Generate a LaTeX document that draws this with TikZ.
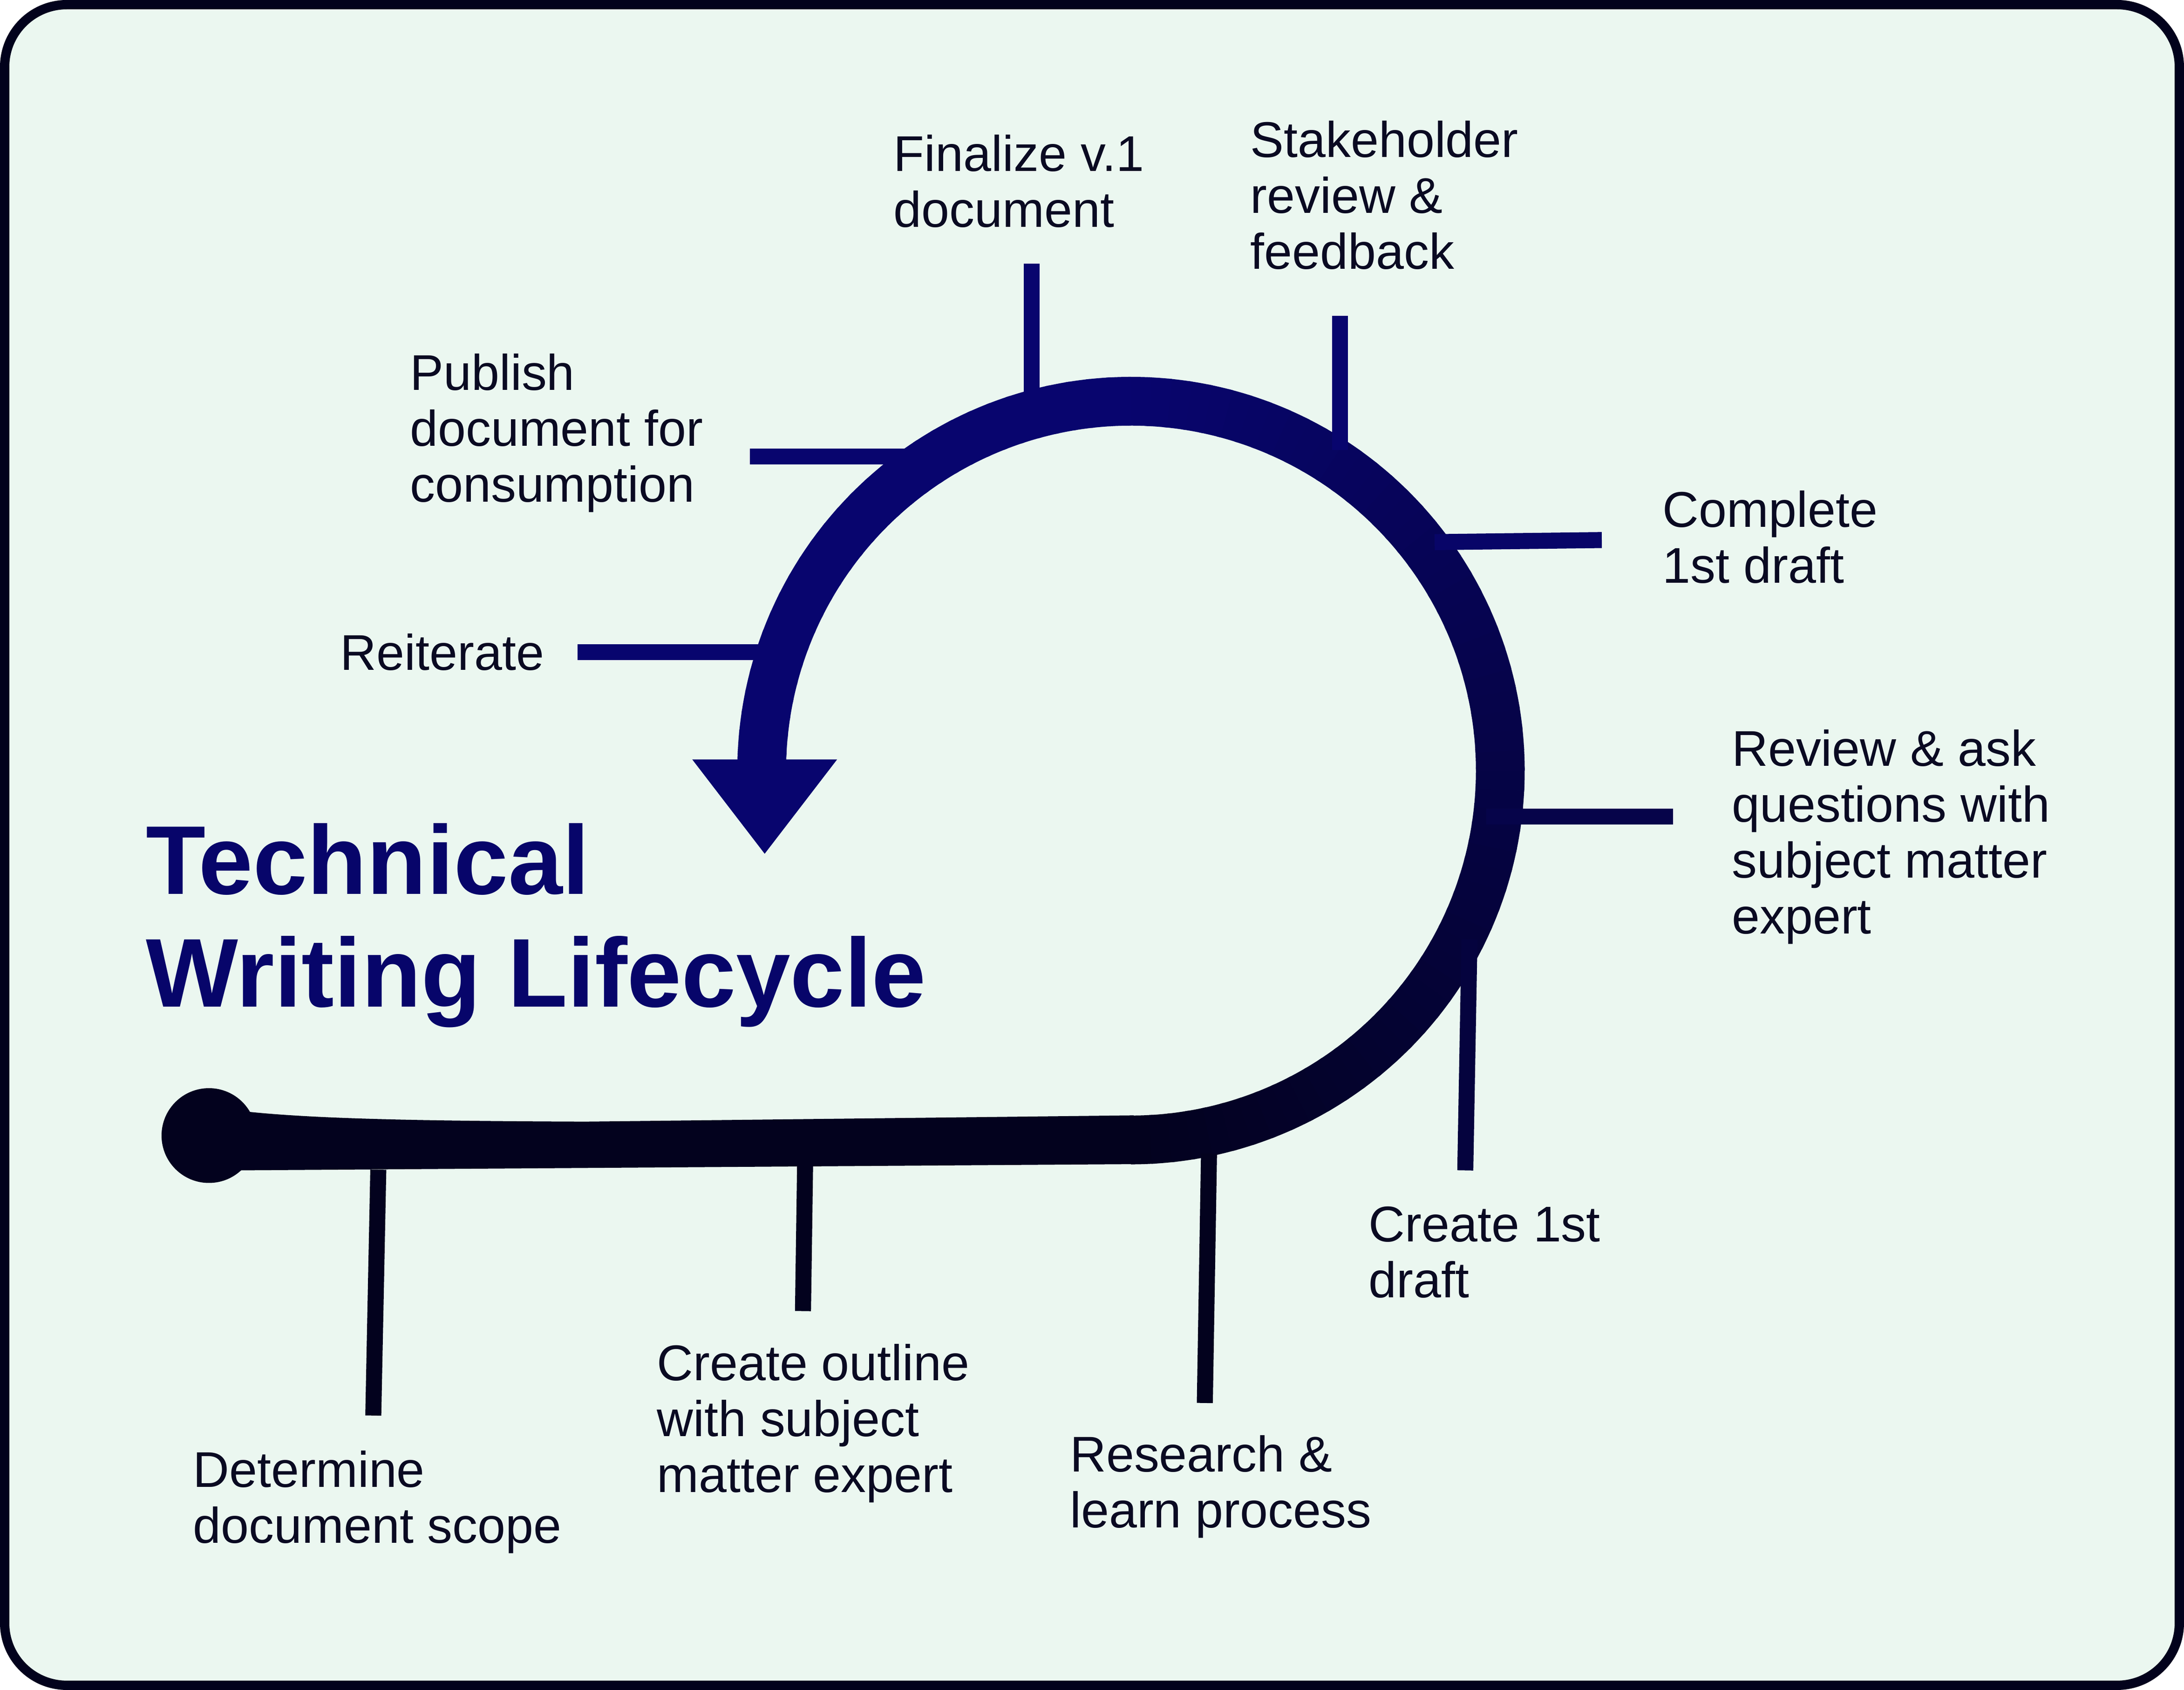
\documentclass[tikz,border=0pt]{standalone}
\usepackage{fontspec}
\setmainfont{Liberation Sans}
\definecolor{bgc}{HTML}{EBF7F0}
\definecolor{framec}{HTML}{02021C}
\definecolor{navyc}{HTML}{08056E}
\definecolor{darkc}{HTML}{03021E}
\definecolor{textc}{HTML}{0A0A22}
\definecolor{titlec}{HTML}{07056A}
\begin{document}
\begin{tikzpicture}[x=0.01cm,y=0.01cm,
  lbl/.style={anchor=base west, inner sep=0pt, align=left, text=textc,
    font=\fontsize{10.25pt}{11.4pt}\selectfont},
  ttl/.style={anchor=base west, inner sep=0pt, align=left, text=titlec,
    font=\fontsize{19.95pt}{23.05pt}\selectfont\bfseries},
  ticksty/.style={line width=0.115cm}]
\useasboundingbox (0,0) rectangle (1568,1213.2);
\fill[white] (0,0) rectangle (1568,1213.2);
\draw[line width=0.067cm, draw=framec, fill=bgc, rounded corners=0.446cm]
  (3.35,3.35) rectangle (1564.65,1209.85);

% tick end points
\coordinate (t1a) at (414.6,745);  \coordinate (t1b) at (550,745);
\coordinate (t2a) at (538.5,885.5); \coordinate (t2b) at (655,885.5);
\coordinate (t3a) at (740.7,1024); \coordinate (t3b) at (740.7,925);
\coordinate (t4a) at (962,986.4);  \coordinate (t4b) at (962,890);
\coordinate (t5a) at (1030,824);   \coordinate (t5b) at (1150,825.5);
\coordinate (t6a) at (1067,627);   \coordinate (t6b) at (1201,627);
\coordinate (t7a) at (1055,539);   \coordinate (t7b) at (1052,373);
\coordinate (t8a) at (868,385);    \coordinate (t8b) at (865,206);
\coordinate (t9a) at (578,376);    \coordinate (t9b) at (576.5,272);
\coordinate (t10a) at (271.6,373.5); \coordinate (t10b) at (268,197);

% straight band and start dot
\fill[darkc] (814,412.5) -- (420,408) .. controls (300,408.5) and (220,410) .. (170,416)
  -- (170,373) -- (814,377.5) -- cycle;
\fill[darkc] (150,398) circle[radius=0.34cm];

% loop with colour changing along its length
\foreach \a in {-90,-87,...,177} {
  \pgfmathsetmacro\b{\a+3.6}
  \pgfmathtruncatemacro\t{min(100,max(0,(\a+91.5)/180*100))}
  \fill[navyc!\t!darkc, shift={(812,660)}]
    (\a:2.825cm) arc[start angle=\a, end angle=\b, radius=2.825cm]
    -- (\b:2.475cm) arc[start angle=\b, end angle=\a, radius=2.475cm] -- cycle;
}
% arrow head
\fill[navyc] (497,668) -- (601,668) -- (549,600.3) -- cycle;

% ticks
\draw[ticksty, navyc] (t1a) -- (t1b);
\draw[ticksty, navyc] (t2a) -- (t2b);
\draw[ticksty, navyc] (t3a) -- (t3b);
\draw[ticksty, navyc] (t4a) -- (t4b);
\draw[ticksty, navyc!92!darkc] (t5a) -- (t5b);
\draw[ticksty, navyc!55!darkc] (t6a) -- (t6b);
\draw[ticksty, navyc!40!darkc] (t7a) -- (t7b);
\draw[ticksty, darkc] (t8a) -- (t8b);
\draw[ticksty, darkc] (t9a) -- (t9b);
\draw[ticksty, darkc] (t10a) -- (t10b);

% labels (anchored at the baseline of their last line)
\node[lbl] (fina) at (641,1050.3) {Finalize v.1\\document};
\node[lbl] (stak) at (897,1020) {Stakeholder\\review \&\\feedback};
\node[lbl] (publ) at (293.7,853) {Publish\\document for\\consumption};
\node[lbl] (reit) at (243.7,732.2) {Reiterate};
\node[lbl] (comp) at (1193,794.8) {Complete\\1st draft};
\node[lbl] (revw) at (1242.7,543) {Review \& ask\\questions with\\subject matter\\expert};
\node[lbl] (crea) at (982,281.8) {Create 1st\\draft};
\node[lbl] (rsch) at (767.5,116.4) {Research \&\\learn process};
\node[lbl] (outl) at (471,142) {Create outline\\with subject\\matter expert};
\node[lbl] (detr) at (138,105.4) {Determine\\document scope};
\node[ttl] (title) at (104.2,490.3) {Technical\\Writing Lifecycle};
\end{tikzpicture}
\end{document}
